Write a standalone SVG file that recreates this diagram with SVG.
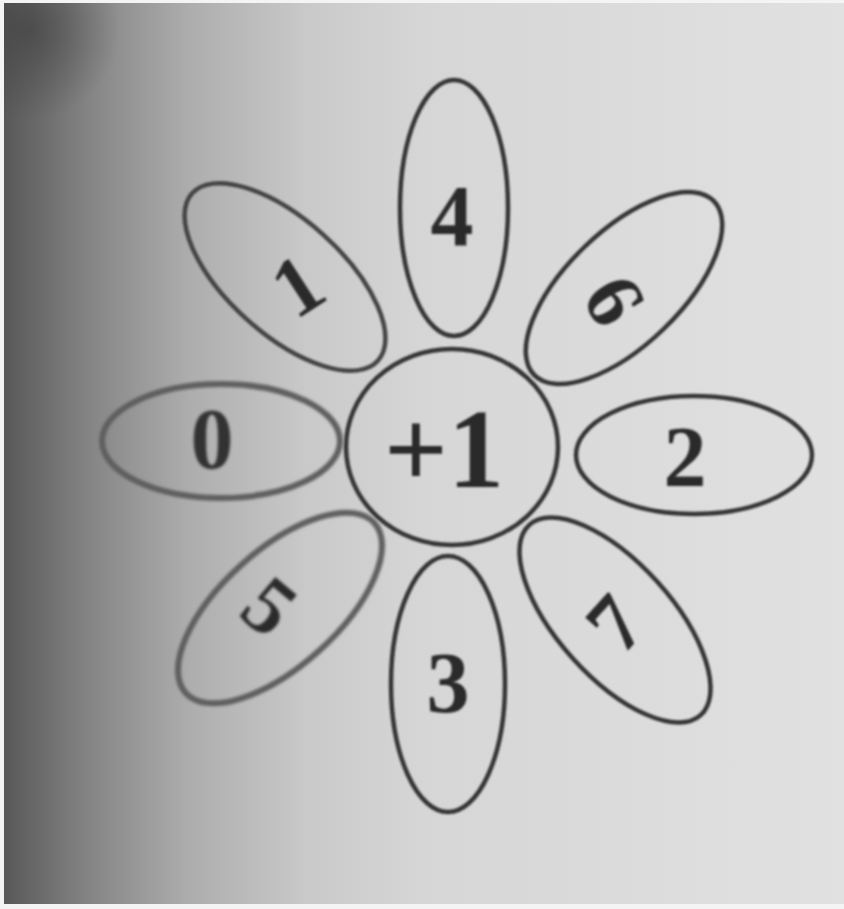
<svg xmlns="http://www.w3.org/2000/svg" width="844" height="909" viewBox="0 0 844 909">
  <defs>
    <linearGradient id="bg" x1="0" y1="0" x2="1" y2="0">
      <stop offset="0" stop-color="#585858"/>
      <stop offset="0.1" stop-color="#848484"/>
      <stop offset="0.22" stop-color="#adadad"/>
      <stop offset="0.36" stop-color="#c9c9c9"/>
      <stop offset="0.5" stop-color="#d6d6d6"/>
      <stop offset="1" stop-color="#e1e1e1"/>
    </linearGradient>
    <radialGradient id="corner" cx="30" cy="30" r="90" gradientUnits="userSpaceOnUse">
      <stop offset="0" stop-color="#3c3c3c" stop-opacity="0.6"/>
      <stop offset="1" stop-color="#3c3c3c" stop-opacity="0"/>
    </radialGradient>
    <filter id="blur" x="-20%" y="-20%" width="140%" height="140%">
      <feGaussianBlur stdDeviation="1.8"/>
    </filter>
    <filter id="soft" x="-20%" y="-20%" width="140%" height="140%">
      <feGaussianBlur stdDeviation="0.8"/>
    </filter>
  </defs>
  <style>
    .petal { fill: none; stroke: #363636; stroke-width: 4.5; }
    .faded { stroke: #5e5e5e; stroke-width: 6; }
    .num { font-family: "Liberation Serif", "Times New Roman", serif; font-weight: bold; fill: #2b2b2b; text-anchor: middle; }
  </style>
  <rect width="844" height="909" fill="#f4f4f4"/>
  <rect x="4" y="3" width="840" height="901" fill="url(#bg)"/>
  <rect x="4" y="3" width="200" height="200" fill="url(#corner)"/>

  <g id="center" filter="url(#soft)">
    <ellipse class="petal" cx="452" cy="447" rx="106" ry="98"/>
    <text class="num" x="444" y="487" font-size="112">+1</text>
  </g>
  <g id="petal-4" filter="url(#soft)">
    <ellipse class="petal" cx="454" cy="208" rx="54" ry="128"/>
    <text class="num" x="452" y="245" font-size="86">4</text>
  </g>
  <g id="petal-6" filter="url(#soft)">
    <ellipse class="petal" cx="624" cy="288" rx="125" ry="57" transform="rotate(-44 624 288)"/>
    <text class="num" font-size="82" transform="translate(615 300) rotate(60)" y="28">6</text>
  </g>
  <g id="petal-2" filter="url(#soft)">
    <ellipse class="petal" cx="694" cy="455" rx="118" ry="59"/>
    <text class="num" x="685" y="486" font-size="86">2</text>
  </g>
  <g id="petal-7" filter="url(#soft)">
    <ellipse class="petal" cx="615" cy="620" rx="128" ry="57" transform="rotate(48 615 620)"/>
    <text class="num" font-size="82" transform="translate(615 623) rotate(-48)" y="28">7</text>
  </g>
  <g id="petal-3" filter="url(#soft)">
    <ellipse class="petal" cx="448" cy="684" rx="57" ry="128"/>
    <text class="num" x="448" y="712" font-size="86">3</text>
  </g>
  <g id="petal-5" filter="url(#blur)">
    <ellipse class="petal faded" cx="280" cy="608" rx="127" ry="58" transform="rotate(-42 280 608)"/>
    <text class="num" font-size="82" fill="#3a3a3a" transform="translate(270 606) rotate(40)" y="28">5</text>
  </g>
  <g id="petal-0" filter="url(#blur)">
    <ellipse class="petal faded" cx="221" cy="441" rx="119" ry="57"/>
    <text class="num" x="212" y="468" font-size="86" style="fill:#333">0</text>
  </g>
  <g id="petal-1" filter="url(#soft)">
    <ellipse class="petal" cx="285" cy="277" rx="125" ry="57" transform="rotate(42 285 277)" style="stroke:#444"/>
    <text class="num" font-size="84" transform="translate(297 285) rotate(-33)" y="29">1</text>
  </g>
</svg>
